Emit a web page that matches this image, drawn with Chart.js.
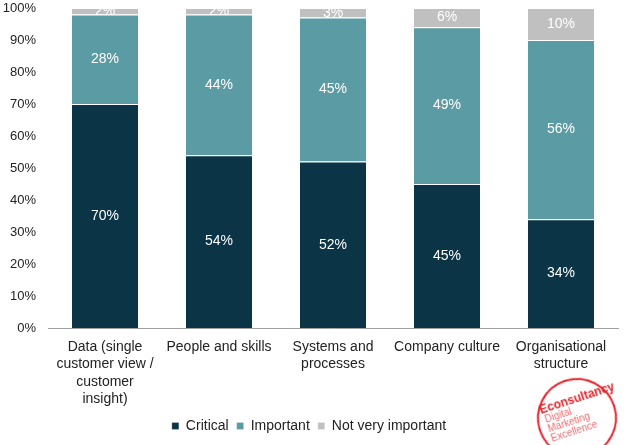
<!DOCTYPE html>
<html lang="en">
<head>
    <meta charset="UTF-8">
    <title>Barriers</title>
    <script src="https://cdn.jsdelivr.net/npm/chart.js"></script>
    <style>
        body { margin: 0; background: #fff; font-family: "Liberation Sans", Arial, sans-serif; }
        .wrap { position: relative; width: 624px; height: 445px; overflow: hidden; }
        .stamp {
            position: absolute; left: 537px; top: 378px; width: 80px; height: 80px;
            border: 2px solid #e3232c; border-radius: 50%; box-sizing: border-box;
            color: #e3232c; transform: rotate(-18deg); font-size: 10px; line-height: 10px;
            padding: 14px 0 0 5px;
        }
        .stamp b { font-size: 12px; display: block; margin-bottom: 1px; }
        .stamp span { display: block; color: #ef6b70; padding-left: 2px; }
    </style>
</head>
<body>
<div class="wrap">
    <canvas id="myChart" width="624" height="445"></canvas>
    <div class="stamp"><b>Econsultancy</b><span>Digital</span><span>Marketing</span><span>Excellence</span></div>
</div>
<script>
    const categories = [
        ['Data (single', 'customer view /', 'customer', 'insight)'],
        'People and skills',
        ['Systems and', 'processes'],
        'Company culture',
        ['Organisational', 'structure']
    ];
    const critical = [70, 54, 52, 45, 34];
    const important = [28, 44, 45, 49, 56];
    const notVeryImportant = [2, 2, 3, 6, 10];
    const yTicks = [0, 10, 20, 30, 40, 50, 60, 70, 80, 90, 100];

    const FONT = '"Liberation Sans", Arial, sans-serif';

    // draw the % labels in the middle of each segment
    const segmentLabels = {
        id: 'segmentLabels',
        afterDatasetsDraw(chart) {
            const ctx = chart.ctx;
            ctx.save();
            ctx.font = '14px ' + FONT;
            ctx.fillStyle = '#ffffff';
            ctx.textAlign = 'center';
            ctx.textBaseline = 'middle';
            chart.data.datasets.forEach((ds, i) => {
                chart.getDatasetMeta(i).data.forEach((bar, j) => {
                    const y = (bar.y + bar.base) / 2;
                    ctx.fillText(ds.data[j] + '%', bar.x, y);
                });
            });
            ctx.restore();
        }
    };

    const ctx = document.getElementById('myChart').getContext('2d');
    const chart = new Chart(ctx, {
        type: 'bar',
        data: {
            labels: categories,
            datasets: [
                { label: 'Critical', data: critical, backgroundColor: '#0b3447' },
                { label: 'Important', data: important, backgroundColor: '#5b9ba3' },
                { label: 'Not very important', data: notVeryImportant, backgroundColor: '#c0c0c0' }
            ].map(d => Object.assign(d, {
                borderColor: '#ffffff',
                borderWidth: { top: 1, right: 0, bottom: 0, left: 0 },
                borderSkipped: false,
                categoryPercentage: 1,
                barPercentage: 0.58
            }))
        },
        options: {
            responsive: false,
            animation: false,
            layout: { padding: { top: 0, right: 6, bottom: 2, left: 0 } },
            plugins: {
                tooltip: { enabled: false },
                legend: {
                    position: 'bottom',
                    labels: {
                        boxWidth: 7, boxHeight: 7, padding: 8,
                        color: '#222',
                        font: { size: 14, family: FONT }
                    }
                }
            },
            scales: {
                x: {
                    stacked: true,
                    grid: { display: false, drawTicks: false },
                    border: { color: '#a0a0a0', width: 1 },
                    afterFit: axis => { axis.height = 83; },
                    ticks: {
                        color: '#222', maxRotation: 0, autoSkip: false, padding: 11,
                        font: { size: 14, lineHeight: 1.22, family: FONT }
                    }
                },
                y: {
                    stacked: true,
                    min: 0, max: 100,
                    afterBuildTicks: axis => { axis.ticks = yTicks.map(v => ({ value: v })); },
                    afterFit: axis => {
                        axis.width = 48;
                        axis.paddingTop = 8;
                        axis.paddingBottom = 8;
                    },
                    grid: { display: false, drawTicks: false },
                    border: { display: false },
                    ticks: {
                        color: '#222', padding: 12,
                        callback: v => v + '%',
                        font: { size: 13, family: FONT }
                    }
                }
            }
        },
        plugins: [segmentLabels]
    });
</script>
</body>
</html>
